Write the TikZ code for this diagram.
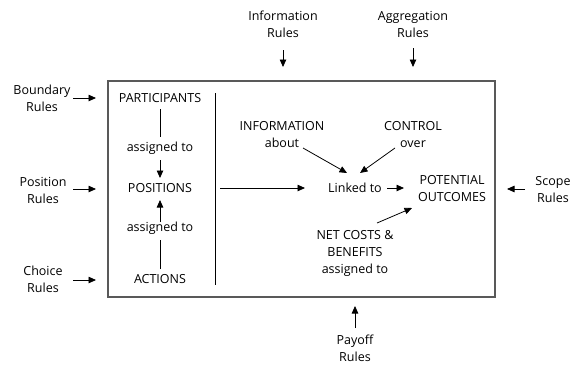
\documentclass[tikz,border=0pt]{standalone}
\usepackage{fontspec}
\setmainfont{Open Sans}
\usetikzlibrary{arrows.meta}
\begin{document}
\begin{tikzpicture}[x=1pt,y=-1pt,
  lbl/.style={align=center,font=\fontsize{12.5}{17}\selectfont,inner sep=0pt},
  arr/.style={-{Triangle[length=7.5pt,width=6.5pt]},line width=0.8pt},
  ln/.style={line width=0.8pt},
  frame/.style={draw=black!65,line width=1.1pt}]
\useasboundingbox (0,0) rectangle (575,367);
% frame and divider
\draw[frame] (108,81) rectangle (495,297);
\coordinate (dtop) at (215,93);
\coordinate (dbot) at (215,285);
\draw[ln] (dtop) -- (dbot);
% outer rule labels
\node[lbl] (infoR) at (283,24) {Information\\Rules};
\node[lbl] (aggR) at (413,24) {Aggregation\\Rules};
\node[lbl] (bndR) at (42,98.5) {Boundary\\Rules};
\node[lbl] (posR) at (43,190) {Position\\Rules};
\node[lbl] (choR) at (43,279.5) {Choice\\Rules};
\node[lbl] (scoR) at (553,190) {Scope\\Rules};
\node[lbl] (payR) at (355,348.5) {Payoff\\Rules};
% arrow ends at the frame
\coordinate (tInfo) at (283,67);
\coordinate (tAgg) at (413,67);
\coordinate (tBnd) at (96,98);
\coordinate (tPos) at (96,189);
\coordinate (tCho) at (96,280);
\coordinate (tSco) at (507,189);
\coordinate (tPay) at (355,306);
\draw[arr] ([shift={(0,26)}]infoR.center) -- (tInfo);
\draw[arr] ([shift={(0,24)}]aggR.center) -- (tAgg);
\draw[arr] ([shift={(31,-0.5)}]bndR.center) -- (tBnd);
\draw[arr] ([shift={(30,-1)}]posR.center) -- (tPos);
\draw[arr] ([shift={(30,0.5)}]choR.center) -- (tCho);
\draw[arr] ([shift={(-28,-1)}]scoR.center) -- (tSco);
\draw[arr] ([shift={(0,-20.5)}]payR.center) -- (tPay);
% left column
\node[lbl] (part) at (160,98) {PARTICIPANTS};
\node[lbl] (as1) at (160,148) {assigned to};
\node[lbl] (pos) at (160,188) {POSITIONS};
\node[lbl] (as2) at (160,228) {assigned to};
\node[lbl] (act) at (160,279) {ACTIONS};
\draw[ln,shorten <=11pt,shorten >=11pt] (part.center) -- (as1.center);
\draw[arr,shorten <=12pt,shorten >=10pt] (as1.center) -- (pos.center);
\draw[ln,shorten <=10pt,shorten >=12pt] (act.center) -- (as2.center);
\draw[arr,shorten <=6pt,shorten >=12pt] (as2.center) -- (pos.center);
% right part
\node[lbl] (info) at (282,134.5) {INFORMATION\\about};
\node[lbl] (ctrl) at (413,134.5) {CONTROL\\over};
\node[lbl] (link) at (355,188) {Linked to};
\node[lbl] (pot) at (452,189) {POTENTIAL\\OUTCOMES};
\node[lbl] (net) at (355,253.5) {NET COSTS \&\\BENEFITS\\assigned to};
\draw[arr,shorten <=60pt,shorten >=50pt] (pos.center) -- (link.center);
\draw[arr,shorten <=32pt,shorten >=48pt] (link.center) -- (pot.center |- link.center);
\draw[arr] ([shift={(21,13.5)}]info.center) -- ([shift={(-8,-15)}]link.center);
\draw[arr] ([shift={(-18,13.5)}]ctrl.center) -- ([shift={(5,-15)}]link.center);
\draw[arr] ([shift={(22,-30.5)}]net.center) -- ([shift={(-40,19)}]pot.center);
\end{tikzpicture}
\end{document}
